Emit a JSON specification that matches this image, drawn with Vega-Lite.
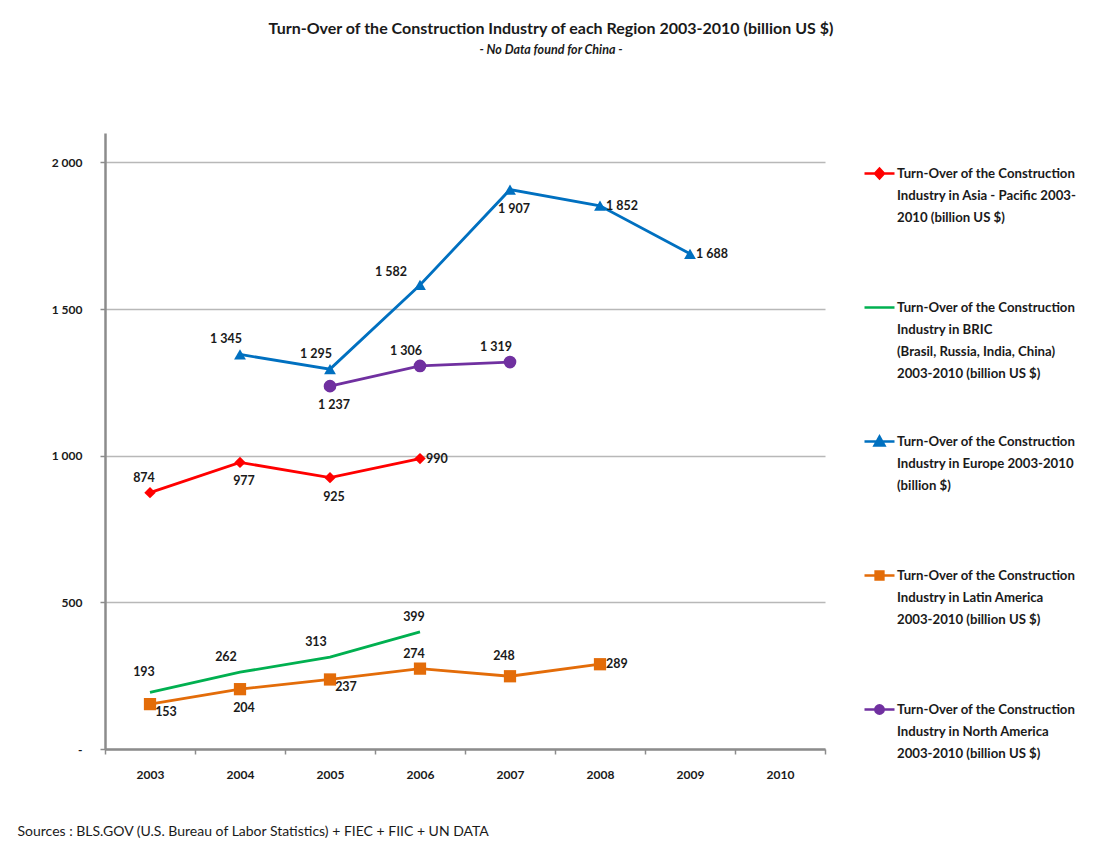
{
  "$schema": "https://vega.github.io/schema/vega-lite/v6.json",
  "width": 720,
  "height": 616,
  "padding": {"left": 17, "top": 20, "right": 20, "bottom": 20},
  "background": "white",
  "config": {
    "locale": {"number": {"decimal": ".", "thousands": " ", "grouping": [3], "currency": ["$", ""]}},
    "font": "Lato",
    "view": {"stroke": null}
  },
  "title": {
    "text": "Turn-Over of the Construction Industry of each Region 2003-2010 (billion US $)",
    "subtitle": "- No Data found for China -",
    "fontSize": 16,
    "fontWeight": "bold",
    "color": "#1a1a1a",
    "subtitleFontSize": 12.5,
    "subtitleFontStyle": "italic",
    "subtitleFontWeight": "bold",
    "subtitleColor": "#1a1a1a",
    "subtitlePadding": 7,
    "anchor": "middle",
    "frame": "bounds",
    "dx": 4,
    "offset": 77
  },
  "data": {
    "values": [
      {"series": "Asia - Pacific", "year": 2003, "value": 874},
      {"series": "Asia - Pacific", "year": 2004, "value": 977},
      {"series": "Asia - Pacific", "year": 2005, "value": 925},
      {"series": "Asia - Pacific", "year": 2006, "value": 990},
      {"series": "BRIC", "year": 2003, "value": 193},
      {"series": "BRIC", "year": 2004, "value": 262},
      {"series": "BRIC", "year": 2005, "value": 313},
      {"series": "BRIC", "year": 2006, "value": 399},
      {"series": "Europe", "year": 2004, "value": 1345},
      {"series": "Europe", "year": 2005, "value": 1295},
      {"series": "Europe", "year": 2006, "value": 1582},
      {"series": "Europe", "year": 2007, "value": 1907},
      {"series": "Europe", "year": 2008, "value": 1852},
      {"series": "Europe", "year": 2009, "value": 1688},
      {"series": "Latin America", "year": 2003, "value": 153},
      {"series": "Latin America", "year": 2004, "value": 204},
      {"series": "Latin America", "year": 2005, "value": 237},
      {"series": "Latin America", "year": 2006, "value": 274},
      {"series": "Latin America", "year": 2007, "value": 248},
      {"series": "Latin America", "year": 2008, "value": 289},
      {"series": "North America", "year": 2005, "value": 1237},
      {"series": "North America", "year": 2006, "value": 1306},
      {"series": "North America", "year": 2007, "value": 1319}
    ]
  },
  "encoding": {
    "x": {
      "field": "year",
      "type": "ordinal",
      "bandPosition": 0.5,
      "scale": {"type": "band", "domain": [2003, 2004, 2005, 2006, 2007, 2008, 2009, 2010], "paddingInner": 0, "paddingOuter": 0},
      "axis": {
        "title": "Sources : BLS.GOV (U.S. Bureau of Labor Statistics) + FIEC + FIIC + UN DATA",
        "titleAnchor": "start",
        "titleAlign": "left",
        "titleX": -88,
        "titleY": 82,
        "titleBaseline": "middle",
        "titleFontWeight": "normal",
        "titleFontSize": 14,
        "titleColor": "#1a1a1a",
        "labelAngle": 0,
        "tickBand": "extent",
        "domainColor": "#8c8c8c",
        "domainWidth": 2.5,
        "tickColor": "#8c8c8c",
        "tickSize": 5,
        "tickWidth": 1.5,
        "labelPadding": 15,
        "labelFontWeight": "bold",
        "labelFontSize": 12,
        "labelColor": "#1a1a1a",
        "grid": false
      }
    },
    "y": {
      "field": "value",
      "type": "quantitative",
      "scale": {"domain": [0, 2100], "nice": false},
      "axis": {
        "title": null,
        "values": [0, 500, 1000, 1500, 2000],
        "labelExpr": "datum.value == 0 ? '-' : format(datum.value, ',')",
        "grid": true,
        "gridColor": "#b8b8b8",
        "gridWidth": 1.5,
        "domainColor": "#8c8c8c",
        "domainWidth": 2.5,
        "tickColor": "#8c8c8c",
        "tickSize": 5,
        "tickWidth": 1.5,
        "labelPadding": 18,
        "labelFontWeight": "bold",
        "labelFontSize": 12,
        "labelColor": "#1a1a1a"
      }
    }
  },
  "layer": [
    {
      "mark": {"type": "line", "strokeWidth": 2.8},
      "encoding": {
        "color": {
          "field": "series",
          "type": "nominal",
          "scale": {"domain": ["Asia - Pacific", "BRIC", "Europe", "Latin America", "North America"], "range": ["#ff0000", "#00b050", "#0070c0", "#e36c09", "#7030a0"]},
          "legend": null
        }
      }
    },
    {
      "transform": [{"filter": "datum.series != 'BRIC'"}],
      "mark": {"type": "point", "filled": true, "opacity": 1},
      "encoding": {
        "color": {"field": "series", "type": "nominal", "legend": null},
        "shape": {
          "field": "series",
          "type": "nominal",
          "scale": {"domain": ["Asia - Pacific", "Europe", "Latin America", "North America"], "range": ["diamond", "triangle-up", "square", "circle"]},
          "legend": null
        },
        "size": {
          "field": "series",
          "type": "nominal",
          "scale": {"domain": ["Asia - Pacific", "Europe", "Latin America", "North America"], "range": [130, 160, 180, 140]},
          "legend": null
        }
      }
    },
    {
      "transform": [{"filter": "false"}],
      "mark": {"type": "point", "filled": true},
      "encoding": {
        "shape": {
          "field": "series",
          "type": "nominal",
          "scale": {"domain": ["Asia - Pacific", "BRIC", "Europe", "Latin America", "North America"], "range": [
            "M-1,0H1M0,-0.33L0.3,0L0,0.33L-0.3,0Z",
            "M-1,0H1",
            "M-1,0H1M0,-0.33L0.33,0.27L-0.33,0.27Z",
            "M-1,0H1M-0.26,-0.26H0.26V0.26H-0.26Z",
            "M-1,0H1M-0.28,0A0.28,0.28 0 1,0 0.28,0A0.28,0.28 0 1,0 -0.28,0Z"
          ]},
          "legend": {
            "title": null,
            "orient": "none",
            "legendX": 758,
            "legendY": 24,
            "gridAlign": "all",
            "rowPadding": 45,
            "symbolSize": 900,
            "symbolStrokeWidth": 2.5,
            "symbolOpacity": 1,
            "labelOffset": 1,
            "labelLimit": 400,
            "labelFontSize": 13.2,
            "labelFontWeight": "bold",
            "labelColor": "#1a1a1a",
            "labelBaseline": "top",
            "labelExpr": "datum.value == 'Asia - Pacific' ? ['Turn-Over of the Construction', 'Industry in Asia - Pacific 2003-', '2010 (billion US $)'] : datum.value == 'BRIC' ? ['Turn-Over of the Construction', 'Industry in BRIC', '(Brasil, Russia, India, China)', '2003-2010 (billion US $)'] : datum.value == 'Europe' ? ['Turn-Over of the Construction', 'Industry in Europe 2003-2010', '(billion $)'] : datum.value == 'Latin America' ? ['Turn-Over of the Construction', 'Industry in Latin America', '2003-2010 (billion US $)'] : ['Turn-Over of the Construction', 'Industry in North America', '2003-2010 (billion US $)']",
            "encoding": {
              "labels": {"dy": {"value": -6}, "lineHeight": {"value": 22}},
              "symbols": {"fill": {"value": {"expr": "scale('color', datum.value)"}}, "stroke": {"value": {"expr": "scale('color', datum.value)"}}, "opacity": {"value": 1}}
            }
          }
        }
      }
    },
    {
      "transform": [{"filter": "indexof(['Asia - Pacific|2003', 'BRIC|2006', 'Latin America|2006'], datum.series + '|' + datum.year) >= 0"}],
      "mark": {"type": "text", "fontSize": 12.5, "fontWeight": "bold", "color": "#1a1a1a", "dx": -6, "dy": -15},
      "encoding": {"text": {"field": "value", "type": "quantitative", "format": ","}}
    },
    {
      "transform": [{"filter": "indexof(['BRIC|2003', 'Latin America|2007'], datum.series + '|' + datum.year) >= 0"}],
      "mark": {"type": "text", "fontSize": 12.5, "fontWeight": "bold", "color": "#1a1a1a", "dx": -6, "dy": -20},
      "encoding": {"text": {"field": "value", "type": "quantitative", "format": ","}}
    },
    {
      "transform": [{"filter": "indexof(['BRIC|2004', 'BRIC|2005', 'Europe|2004', 'Europe|2005', 'North America|2006', 'North America|2007'], datum.series + '|' + datum.year) >= 0"}],
      "mark": {"type": "text", "fontSize": 12.5, "fontWeight": "bold", "color": "#1a1a1a", "dx": -14, "dy": -15},
      "encoding": {"text": {"field": "value", "type": "quantitative", "format": ","}}
    },
    {
      "transform": [{"filter": "indexof(['Europe|2006'], datum.series + '|' + datum.year) >= 0"}],
      "mark": {"type": "text", "fontSize": 12.5, "fontWeight": "bold", "color": "#1a1a1a", "dx": -29, "dy": -13},
      "encoding": {"text": {"field": "value", "type": "quantitative", "format": ","}}
    },
    {
      "transform": [{"filter": "indexof(['Asia - Pacific|2004', 'Asia - Pacific|2005', 'Latin America|2004', 'North America|2005', 'Europe|2007'], datum.series + '|' + datum.year) >= 0"}],
      "mark": {"type": "text", "fontSize": 12.5, "fontWeight": "bold", "color": "#1a1a1a", "dx": 4, "dy": 19},
      "encoding": {"text": {"field": "value", "type": "quantitative", "format": ","}}
    },
    {
      "transform": [{"filter": "indexof(['Latin America|2003', 'Latin America|2005'], datum.series + '|' + datum.year) >= 0"}],
      "mark": {"type": "text", "fontSize": 12.5, "fontWeight": "bold", "color": "#1a1a1a", "dx": 16, "dy": 8},
      "encoding": {"text": {"field": "value", "type": "quantitative", "format": ","}}
    },
    {
      "transform": [{"filter": "indexof(['Asia - Pacific|2006', 'Europe|2008', 'Europe|2009', 'Latin America|2008'], datum.series + '|' + datum.year) >= 0"}],
      "mark": {"type": "text", "fontSize": 12.5, "fontWeight": "bold", "color": "#1a1a1a", "align": "left", "dx": 6, "dy": 0},
      "encoding": {"text": {"field": "value", "type": "quantitative", "format": ","}}
    }
  ],
  "resolve": {"scale": {"shape": "independent", "size": "independent"}}
}
